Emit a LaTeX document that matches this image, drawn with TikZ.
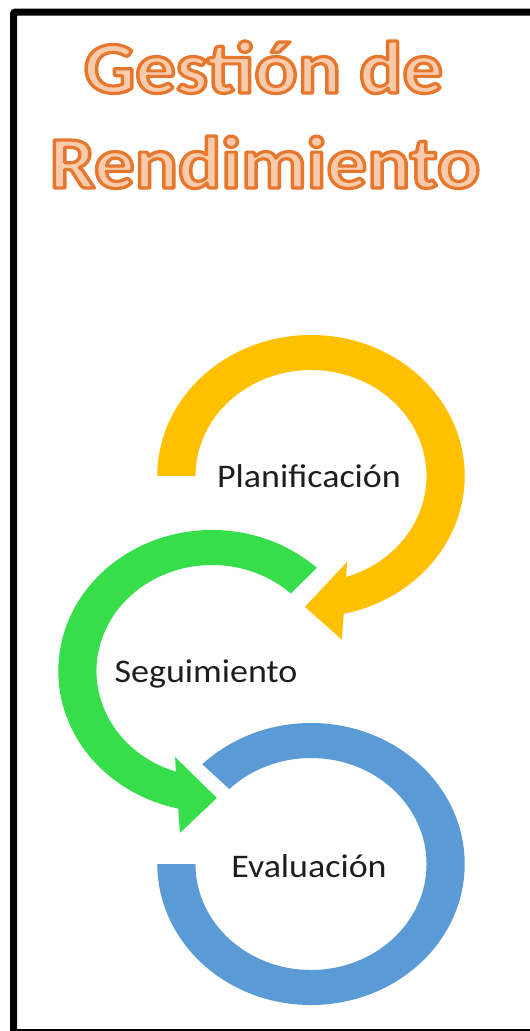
\documentclass[tikz,border=0pt]{standalone}
\usepackage{fontspec}
\setmainfont{Carlito}
\usetikzlibrary{calc}
\definecolor{ygold}{HTML}{FFC000}
\definecolor{ggreen}{HTML}{36DE4A}
\definecolor{bblue}{HTML}{5B9BD5}
\definecolor{tline}{HTML}{E8772E}
\definecolor{tfill}{HTML}{F8CBAD}
\definecolor{txt}{HTML}{1E1E1E}
\newcommand{\outlinetext}[1]{\scalebox{1.09}[1]{\special{pdf:literal 2 Tr 3.2 w 1 j 0.91 0.467 0.18 RG}#1\special{pdf:literal 0 Tr}}}
\begin{document}
\begin{tikzpicture}[x=1pt,y=1pt,
  lbl/.style={inner sep=0, anchor=base, text=txt, font=\fontsize{33}{40}\selectfont},
  ttl/.style={inner sep=0, anchor=base, font=\fontsize{74}{80}\selectfont\bfseries},
  ring/.style={xscale=1.09}
]
\useasboundingbox (0,0) rectangle (530,-1031);
\clip (0,0) rectangle (530,-1031);
\fill[white] (0,0) rectangle (530,-1031);
\draw[line width=7, rounded corners=2] (13.5,-12) rectangle (545,-1032.5);

% title with outline
\node[ttl, text=tfill] (title1) at (263.5,-93) {\outlinetext{Gestión de}};
\node[ttl, text=tfill] (title2) at (265,-188) {\outlinetext{Rendimiento}};

% yellow circular arrow (Planificacion)
\begin{scope}[shift={(311,-476)}, ring]
  \fill[ygold] (180:141) arc[start angle=180, end angle=-77.7, radius=141]
    -- (-80.2:166) -- (-92.4:131) -- (-68.9:92) -- (-72.3:106)
    arc[start angle=-72.3, end angle=180, radius=106] -- cycle;
\end{scope}

% green circular arrow (Seguimiento)
\begin{scope}[shift={(212,-671)}, ring]
  \fill[ggreen] (47:141) arc[start angle=47, end angle=257.3, radius=141]
    -- (259.7:164.6) -- (272:127) -- (248.5:92.4) -- (251.8:106)
    arc[start angle=251.8, end angle=47, radius=106] -- cycle;
\end{scope}

% blue ring (Evaluacion)
\begin{scope}[shift={(311,-864)}, ring]
  \fill[bblue] (135:141) arc[start angle=135, end angle=-180, radius=141]
    -- (180:106) arc[start angle=-180, end angle=135, radius=106] -- cycle;
\end{scope}

\node[lbl] (plan) at (309,-487) {\scalebox{1.09}[1]{Planificación}};
\node[lbl] (seg) at (206,-682) {\scalebox{1.09}[1]{Seguimiento}};
\node[lbl] (eva) at (309,-877) {\scalebox{1.09}[1]{Evaluación}};
\end{tikzpicture}
\end{document}
